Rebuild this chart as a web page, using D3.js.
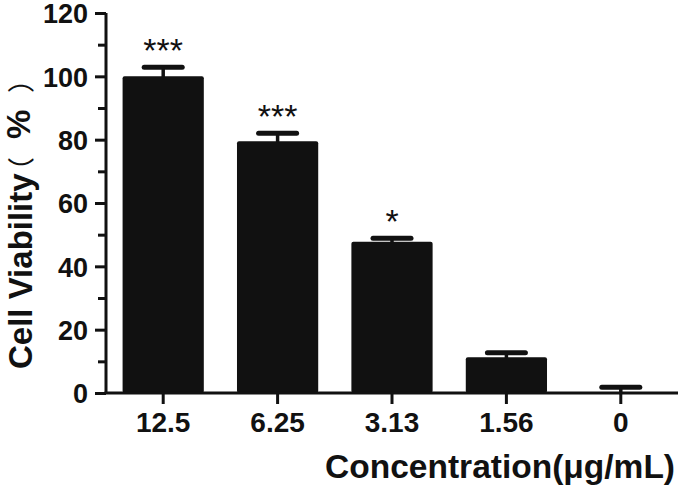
<!DOCTYPE html>
<html><head><meta charset="utf-8">
<script src="https://cdn.jsdelivr.net/npm/d3@7"></script>
<style>
html,body{margin:0;padding:0;background:#fff;}
svg text{font-family:"Liberation Sans",Arial,"Noto Sans CJK SC",sans-serif;fill:#111;}
</style></head>
<body>
<svg id="chart" width="681" height="485"></svg>
<script>
const categories = ["12.5", "6.25", "3.13", "1.56", "0"];
const means = [100, 79.5, 47.8, 11.3, 0];
const errors = [2.9, 2.5, 1.1, 1.4, 1.8];
const stars = ["***", "***", "*", "", ""];
const yTicks = [0, 20, 40, 60, 80, 100, 120];
const yMinorTicks = [10, 30, 50, 70, 90, 110];
const xTitle = "Concentration(μg/mL)";
const yTitleMain = "Cell Viability";
const yTitleUnit = ["（", "%", "）"];

const data = categories.map((c, i) => ({c, m: means[i], e: errors[i], s: stars[i]}));
const svg = d3.select("#chart");
const col = "#111";
const x = d3.scaleBand().domain(categories).range([106, 678]).paddingInner(0.29).paddingOuter(0.145);
const y = d3.scaleLinear().domain([0, 120]).range([393, 13]);

// bars
svg.append("g").selectAll("rect").data(data).join("rect")
  .attr("x", d => x(d.c)).attr("width", x.bandwidth())
  .attr("y", d => y(d.m)).attr("height", d => y(0) - y(d.m))
  .attr("rx", 2).attr("fill", col);

// error bars
const eg = svg.append("g").attr("stroke", col).attr("stroke-linecap", "round");
eg.selectAll("line.v").data(data).join("line").attr("class", "v")
  .attr("x1", d => x(d.c) + x.bandwidth()/2).attr("x2", d => x(d.c) + x.bandwidth()/2)
  .attr("y1", d => y(d.m)).attr("y2", d => y(d.m + d.e)).attr("stroke-width", 3.5);
eg.selectAll("line.cap").data(data).join("line").attr("class", "cap")
  .attr("x1", d => x(d.c) + x.bandwidth()/2 - 19).attr("x2", d => x(d.c) + x.bandwidth()/2 + 19)
  .attr("y1", d => y(d.m + d.e)).attr("y2", d => y(d.m + d.e)).attr("stroke-width", 5);

// stars
svg.append("g").selectAll("text").data(data.filter(d => d.s)).join("text")
  .attr("x", d => x(d.c) + x.bandwidth()/2).attr("y", d => y(d.m + d.e) - 5)
  .attr("text-anchor", "middle").attr("font-size", 34).text(d => d.s);

// y axis
const yAxis = svg.append("g").attr("transform", "translate(106,0)")
  .call(d3.axisLeft(y).tickValues(yTicks).tickSize(11).tickPadding(6).tickFormat(d3.format("d")));
yAxis.select(".domain").attr("d", `M0,${y(120)}V${y(0)}`);
svg.append("g").attr("transform", "translate(106,0)")
  .call(d3.axisLeft(y).tickValues(yMinorTicks).tickSize(8).tickFormat(""))
  .select(".domain").remove();
svg.selectAll(".tick line, .domain").attr("stroke", col).attr("stroke-width", 3);
yAxis.selectAll(".tick text").attr("font-size", 27).attr("font-weight", "bold").attr("fill", col).attr("dy", "0.36em").attr("x", -18);

// x axis
const xAxis = svg.append("g").attr("transform", `translate(0,${y(0)})`)
  .call(d3.axisBottom(x).tickSize(11).tickPadding(8));
xAxis.select(".domain").attr("d", `M104.5,0H678`).attr("stroke", col).attr("stroke-width", 3);
xAxis.selectAll(".tick line").attr("stroke", col).attr("stroke-width", 3);
xAxis.selectAll(".tick text").attr("font-size", 28).attr("font-weight", "bold").attr("fill", col)
  .attr("dy", 0).attr("y", 39);

// titles
svg.append("text").attr("x", 675).attr("y", 478).attr("text-anchor", "end")
  .attr("font-size", 33.5).attr("font-weight", "bold").text(xTitle);
const yt = svg.append("text").attr("transform", "translate(32,0) rotate(-90)")
  .attr("font-size", 33).attr("font-weight", "bold");
yt.append("tspan").attr("x", -369).attr("y", 0).text(yTitleMain);
yt.append("tspan").attr("x", -184).attr("y", -1).attr("font-size", 27).attr("font-weight", "normal")
  .style("font-family", "'Noto Sans CJK SC'").text(yTitleUnit[0]);
yt.append("tspan").attr("x", -139).attr("y", -2).text(yTitleUnit[1]);
yt.append("tspan").attr("x", -93).attr("y", -1).attr("font-size", 27).attr("font-weight", "normal")
  .style("font-family", "'Noto Sans CJK SC'").text(yTitleUnit[2]);
</script>
</body></html>
